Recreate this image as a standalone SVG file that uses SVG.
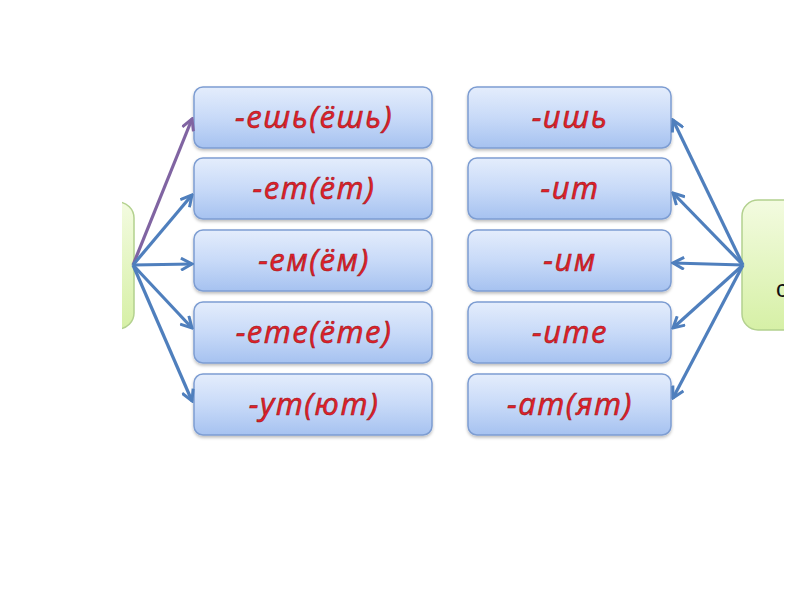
<svg xmlns="http://www.w3.org/2000/svg" width="800" height="600" viewBox="0 0 800 600">
<defs>
<linearGradient id="gb" x1="0" y1="0" x2="0" y2="1">
<stop offset="0" stop-color="#e4edfc"/>
<stop offset="0.5" stop-color="#c8daf8"/>
<stop offset="1" stop-color="#a6c2f0"/>
</linearGradient>
<linearGradient id="gg" x1="0" y1="0" x2="0" y2="1">
<stop offset="0" stop-color="#f3fbe0"/>
<stop offset="1" stop-color="#d6f0a6"/>
</linearGradient>
<filter id="sh" x="-10%" y="-10%" width="120%" height="130%">
<feGaussianBlur in="SourceAlpha" stdDeviation="1.5"/>
<feOffset dx="0" dy="2" result="b"/>
<feFlood flood-color="#000" flood-opacity="0.25"/>
<feComposite in2="b" operator="in"/>
<feMerge><feMergeNode/><feMergeNode in="SourceGraphic"/></feMerge>
</filter>
<marker id="ab" viewBox="0 0 14 14" refX="12" refY="7" markerWidth="14" markerHeight="14" markerUnits="userSpaceOnUse" orient="auto">
<polyline points="1,1 12,7 1,13" fill="none" stroke="#4f7fbd" stroke-width="3" stroke-linejoin="miter"/>
</marker>
<marker id="ap" viewBox="0 0 14 14" refX="12" refY="7" markerWidth="14" markerHeight="14" markerUnits="userSpaceOnUse" orient="auto">
<polyline points="1,1 12,7 1,13" fill="none" stroke="#8064a2" stroke-width="3"/>
</marker>
<clipPath id="clipL"><rect x="122" y="0" width="100" height="600"/></clipPath>
<clipPath id="clipR"><rect x="700" y="0" width="84" height="600"/></clipPath>
</defs>
<style>
.box{fill:url(#gb);stroke:#7d9dd2;stroke-width:1.5;filter:url(#sh)}
.hub{fill:url(#gg);stroke:#b3d18f;stroke-width:1.5}
.t{font-family:"Open Sans","DejaVu Sans",sans-serif;font-style:italic;font-size:31px;letter-spacing:1.5px;fill:#e4202a;text-anchor:middle;stroke:#9a1a20;stroke-width:0.6}
.c{fill:none;stroke:#4f7fbd;stroke-width:3.2;marker-end:url(#ab)}
.cp{fill:none;stroke:#8064a2;stroke-width:3.2;marker-end:url(#ap)}
</style>
<rect width="800" height="600" fill="#fff"/>
<g id="hubL" clip-path="url(#clipL)">
<rect class="hub" x="40" y="202" width="94" height="127" rx="16"/>
</g>
<g id="hubR" clip-path="url(#clipR)">
<rect class="hub" x="742" y="200" width="120" height="130" rx="16"/>
<text x="776" y="297" font-family="Liberation Sans,sans-serif" font-size="24" fill="#111">с</text>
</g>
<g id="l1"><rect class="box" x="194" y="87" width="238" height="61" rx="9"/><text class="t" x="314" y="128">-ешь(ёшь)</text></g>
<g id="l2"><rect class="box" x="194" y="158" width="238" height="61" rx="9"/><text class="t" x="314" y="199">-ет(ёт)</text></g>
<g id="l3"><rect class="box" x="194" y="230" width="238" height="61" rx="9"/><text class="t" x="314" y="271">-ем(ём)</text></g>
<g id="l4"><rect class="box" x="194" y="302" width="238" height="61" rx="9"/><text class="t" x="314" y="343">-ете(ёте)</text></g>
<g id="l5"><rect class="box" x="194" y="374" width="238" height="61" rx="9"/><text class="t" x="314" y="415">-ут(ют)</text></g>
<g id="r1"><rect class="box" x="468" y="87" width="203" height="61" rx="9"/><text class="t" x="570" y="128">-ишь</text></g>
<g id="r2"><rect class="box" x="468" y="158" width="203" height="61" rx="9"/><text class="t" x="570" y="199">-ит</text></g>
<g id="r3"><rect class="box" x="468" y="230" width="203" height="61" rx="9"/><text class="t" x="570" y="271">-им</text></g>
<g id="r4"><rect class="box" x="468" y="302" width="203" height="61" rx="9"/><text class="t" x="570" y="343">-ите</text></g>
<g id="r5"><rect class="box" x="468" y="374" width="203" height="61" rx="9"/><text class="t" x="570" y="415">-ат(ят)</text></g>
<g id="connectors">
<line class="cp" x1="133" y1="265" x2="192" y2="119"/>
<line class="c" x1="133" y1="265" x2="192" y2="195"/>
<line class="c" x1="133" y1="265" x2="192" y2="264"/>
<line class="c" x1="133" y1="265" x2="192" y2="328"/>
<line class="c" x1="133" y1="265" x2="192" y2="401"/>
<line class="c" x1="743" y1="265" x2="673" y2="120"/>
<line class="c" x1="743" y1="265" x2="673" y2="193"/>
<line class="c" x1="743" y1="265" x2="673" y2="263"/>
<line class="c" x1="743" y1="265" x2="673" y2="328"/>
<line class="c" x1="743" y1="265" x2="673" y2="398"/>
</g>
</svg>
